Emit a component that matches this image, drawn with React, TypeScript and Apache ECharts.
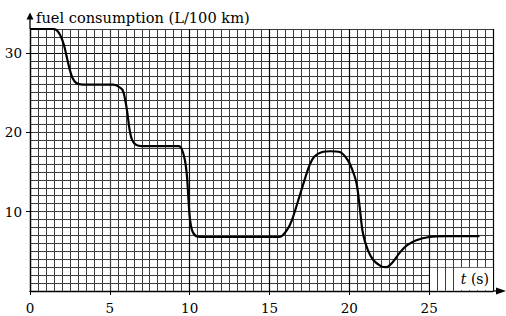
import React, { useEffect, useRef } from "react";
import * as echarts from "echarts";

// time (s)
const timeS = [
  0, 1.4, 1.7, 1.95, 2.15, 2.3, 2.45, 2.65, 2.9, 3.3, 5.2, 5.5, 5.8, 5.97, 6.1, 6.24, 6.4, 6.65, 7.0,
  9.3, 9.5, 9.7, 9.83, 9.93, 10.03, 10.2, 10.5, 11, 15.6, 16.1, 16.4, 16.8, 17.2, 17.5, 17.8, 18.3,
  18.8, 19.4, 19.9, 20.2, 20.45, 20.65, 20.85, 21.15, 21.5, 22.0, 22.3, 22.7, 23.15, 23.65, 24.2,
  25.0, 26, 28.15,
];
// fuel consumption (L/100 km)
const fuelL = [
  33, 33, 32.8, 32.0, 30.8, 29.5, 28.2, 26.9, 26.2, 26.0, 26.0, 25.8, 25.3, 24.0, 22.4, 20.3, 19.0,
  18.4, 18.25, 18.25, 17.9, 16.5, 14.5, 11.4, 8.9, 7.4, 6.85, 6.8, 6.8, 7.7, 8.9, 11.4, 14.0, 15.8,
  16.9, 17.5, 17.6, 17.5, 16.5, 15.2, 13.6, 10.6, 7.3, 5.2, 3.9, 3.1, 3.0, 3.6, 4.8, 5.8, 6.4, 6.8,
  6.9, 6.9,
];

const xMin = 0;
const xMax = 29;
const xInterval = 5;
const yMin = 0;
const yMax = 33;
const yInterval = 10;

const yTitle = "fuel consumption (L/100 km)";
const xTitle = "{i|t} (s)";

// label box region (data units) at the bottom-right of the grid
const boxX0 = 25.06;
const boxX1 = 29;
const boxY0 = 0.1;
const boxY1 = 2.92;
const boxKeepLines = [25.5, 26, 26.5];

const FONT = "DejaVu Serif";
const MINOR = "#3c3c3c";

export default function App() {
  const ref = useRef<HTMLDivElement>(null);
  useEffect(() => {
    if (!ref.current) return;
    const chart = echarts.init(ref.current, undefined, { renderer: "svg" });
    const data = timeS.map((t, i) => [t, fuelL[i]]);
    chart.setOption({
      animation: false,
      backgroundColor: "#fff",
      grid: { left: 30, right: 13, top: 29, bottom: 25, containLabel: false },
      xAxis: {
        type: "value",
        min: xMin,
        max: xMax,
        interval: xInterval,
        axisLine: { show: true, lineStyle: { color: "#000", width: 1.3 } },
        axisTick: { show: true, length: 4, lineStyle: { color: "#000" } },
        axisLabel: {
          showMaxLabel: false,
          margin: 10,
          fontFamily: FONT,
          fontSize: 13.5,
          color: "#000",
        },
        splitLine: {
          show: true,
          lineStyle: { color: ["#000", MINOR, "#000", "#000", "#000", "#000", "#000"], width: 1.2 },
        },
        minorTick: { show: false, splitNumber: 10 },
        minorSplitLine: { show: true, lineStyle: { color: MINOR, width: 1 } },
      },
      yAxis: {
        type: "value",
        min: yMin,
        max: yMax,
        interval: yInterval,
        name: yTitle,
        nameLocation: "end",
        nameGap: 12,
        nameTextStyle: {
          align: "left",
          verticalAlign: "middle",
          padding: [0, 0, 0, 6],
          fontFamily: FONT,
          fontSize: 14.6,
          color: "#000",
        },
        axisLine: { show: true, lineStyle: { color: "#000", width: 1.3 } },
        axisTick: { show: true, length: 4, lineStyle: { color: "#000" } },
        axisLabel: {
          showMinLabel: false,
          showMaxLabel: false,
          margin: 8,
          fontFamily: FONT,
          fontSize: 13.5,
          color: "#000",
        },
        splitLine: {
          show: true,
          lineStyle: { color: [MINOR, MINOR, MINOR, "#000", MINOR], width: 1.2 },
        },
        minorTick: { show: false, splitNumber: 10 },
        minorSplitLine: { show: true, lineStyle: { color: MINOR, width: 1 } },
      },
      series: [
        {
          type: "line",
          data,
          smooth: 0.35,
          showSymbol: false,
          lineStyle: { color: "#000", width: 2.2 },
          z: 5,
          silent: true,
          markArea: {
            silent: true,
            itemStyle: { color: "#fff", opacity: 1 },
            label: {
              show: true,
              position: "insideRight",
              distance: 4,
              formatter: xTitle,
              fontFamily: FONT,
              fontSize: 14,
              color: "#000",
              rich: {
                i: { fontFamily: FONT, fontSize: 14, fontStyle: "italic", color: "#000" },
              },
            },
            data: [[{ coord: [boxX0, boxY0] }, { coord: [boxX1, boxY1] }]],
          },
          markLine: {
            silent: true,
            symbol: "none",
            label: { show: false },
            lineStyle: { color: MINOR, width: 1, type: "solid" },
            data: boxKeepLines.map((x) => [{ coord: [x, boxY0] }, { coord: [x, boxY1 + 0.08] }]),
          },
        },
      ],
    });

    const o = chart.convertToPixel({ gridIndex: 0 }, [xMin, yMin]) as number[];
    const tr = chart.convertToPixel({ gridIndex: 0 }, [xMax, yMax]) as number[];
    const ax = o[0];
    const ay = o[1];
    const topY = tr[1];
    const rightX = tr[0];
    chart.setOption({
      graphic: [
        {
          type: "line",
          shape: { x1: ax, y1: topY, x2: ax, y2: topY - 12 },
          style: { stroke: "#000", lineWidth: 1.3 },
          silent: true,
        },
        {
          type: "polygon",
          shape: { points: [[ax, topY - 16.5], [ax - 3.5, topY - 9.5], [ax + 3.5, topY - 9.5]] },
          style: { fill: "#000" },
          silent: true,
        },
        {
          type: "line",
          shape: { x1: rightX, y1: ay, x2: rightX + 6, y2: ay },
          style: { stroke: "#000", lineWidth: 1.3 },
          silent: true,
        },
        {
          type: "polygon",
          shape: { points: [[rightX + 13, ay], [rightX + 3, ay - 3.5], [rightX + 3, ay + 3.5]] },
          style: { fill: "#000" },
          silent: true,
        },
      ],
    });
    return () => chart.dispose();
  }, []);
  return (
    <div
      ref={ref}
      style={{ position: "absolute", left: 0, top: 0, width: 506, height: 316, background: "#fff" }}
    />
  );
}
